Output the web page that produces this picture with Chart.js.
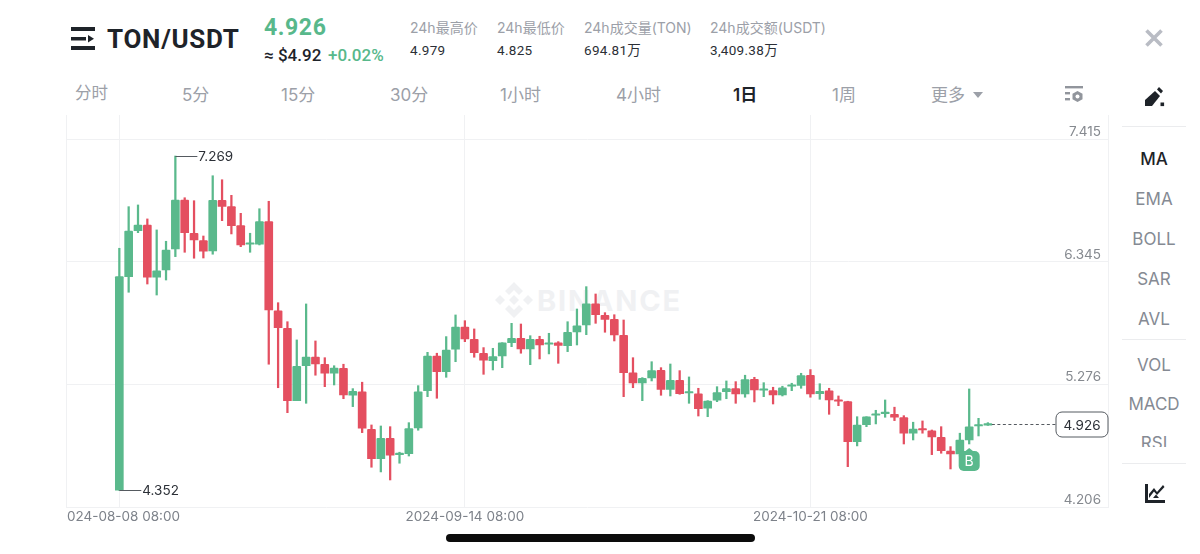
<!DOCTYPE html>
<html>
<head>
<meta charset="utf-8">
<script src="https://cdn.jsdelivr.net/npm/chart.js@4"></script>
<style>
    html, body { margin: 0; padding: 0; background: #fff; width: 1200px; height: 554px; overflow: hidden; }
    body { position: relative; font-family: Inter, Roboto, "Noto Sans CJK SC", sans-serif; color: #1e2329; }
    .t { position: absolute; white-space: nowrap; line-height: 1; transform: translateY(-50%); }
    .r { font-family: Roboto, "Noto Sans CJK SC", sans-serif; }
    .label { font-size: 14px; color: #9ca0a8; }
    .val { font-size: 13.5px; color: #2b2f36; font-family: Roboto, "Noto Sans CJK SC", sans-serif; letter-spacing: .3px; }
    .nav { font-size: 17px; color: #9ca0a8; }
    .side { font-size: 17px; color: #858a93; left: 1122px; width: 64px; text-align: center; }
    .sep { position: absolute; left: 1122px; width: 64px; height: 1px; background: #ebecee; }
    svg { position: absolute; }
    #wrap { position: absolute; left: 66px; top: 110px; width: 1043px; height: 420px; }
    #mark { position: absolute; left: 537px; top: 300px; transform: translateY(-50%); font-size: 29px; font-weight: 700; color: #f0f1f3; letter-spacing: 1.8px; line-height: 1; }
    #home { position: absolute; left: 446px; top: 534px; width: 309px; height: 8px; border-radius: 4px; background: #0c0c0c; }
    #rsiClip { position: absolute; left: 1122px; top: 430px; width: 64px; height: 17px; overflow: hidden; }
</style>
</head>
<body>
    <svg style="left:70px;top:26px" width="26" height="25" viewBox="0 0 26 25">
        <rect x="1" y="1" width="24" height="4" fill="#1e2329"/>
        <rect x="1" y="11" width="15" height="3.5" fill="#1e2329"/>
        <path d="M18 9 L24 12.7 L18 16.5 Z" fill="#1e2329"/>
        <rect x="1" y="20" width="24" height="4" fill="#1e2329"/>
    </svg>
    <div class="t r" style="left:107px;top:39px;font-size:26px;font-weight:700;letter-spacing:.7px">TON/USDT</div>
    <div class="t r" style="left:264px;top:27px;font-size:23px;font-weight:700;color:#58b88b;letter-spacing:.6px">4.926</div>
    <div class="t r" style="left:264px;top:55px;font-size:17px;font-weight:500">≈ $4.92</div>
    <div class="t r" style="left:328px;top:55px;font-size:17px;font-weight:500;color:#58b88b">+0.02%</div>

    <div class="t label" style="left:410px;top:28px">24h最高价</div>
    <div class="t val" style="left:410px;top:51px">4.979</div>
    <div class="t label" style="left:497px;top:28px">24h最低价</div>
    <div class="t val" style="left:497px;top:51px">4.825</div>
    <div class="t label" style="left:584px;top:28px">24h成交量(TON)</div>
    <div class="t val" style="left:584px;top:51px">694.81万</div>
    <div class="t label" style="left:710px;top:28px">24h成交额(USDT)</div>
    <div class="t val" style="left:710px;top:51px">3,409.38万</div>

    <div class="t nav" style="left:75px;top:93px;font-size:16.5px">分时</div>
    <div class="t nav" style="left:182px;top:95px">5分</div>
    <div class="t nav" style="left:281px;top:95px">15分</div>
    <div class="t nav" style="left:390px;top:95px">30分</div>
    <div class="t nav" style="left:500px;top:95px">1小时</div>
    <div class="t nav" style="left:616px;top:95px">4小时</div>
    <div class="t nav" style="left:733px;top:95px;color:#1e2329;font-weight:600">1日</div>
    <div class="t nav" style="left:832px;top:95px">1周</div>
    <div class="t nav" style="left:931px;top:95px">更多</div>
    <svg style="left:972px;top:91px" width="12" height="8"><path d="M1 1 H11 L6 7 Z" fill="#9ca0a8"/></svg>

    <svg style="left:1064px;top:85px" width="20" height="18" viewBox="0 0 20 18">
        <rect x="1" y="1" width="18" height="2.4" fill="#91959c"/>
        <rect x="1" y="7" width="5" height="2.4" fill="#91959c"/>
        <rect x="1" y="13" width="5" height="2.4" fill="#91959c"/>
        <path d="M13.5 6 L18.5 8.8 V14.2 L13.5 17 L8.5 14.2 V8.8 Z" fill="#91959c"/>
        <circle cx="13.5" cy="11.5" r="2" fill="#fff"/>
    </svg>

    <svg style="left:1144px;top:28px" width="20" height="20"><path d="M2.5 2.5 L17.5 17.5 M17.5 2.5 L2.5 17.5" stroke="#b9bcc4" stroke-width="3.6"/></svg>
    <svg style="left:1143px;top:86px" width="24" height="22" viewBox="0 0 24 22">
        <path d="M2 20 V14 L12 5 L17 10 L9 20 Z" fill="#1e2329"/>
        <path d="M14 3.5 L16 1 L20 5 L18 7.5 Z" fill="#1e2329"/>
        <rect x="17.5" y="16.5" width="3.6" height="3.6" fill="#1e2329"/>
    </svg>
    <div class="sep" style="top:126px"></div>
    <div class="t side" style="top:159px;color:#1e2329;font-weight:500">MA</div>
    <div class="t side" style="top:199px">EMA</div>
    <div class="t side" style="top:239px">BOLL</div>
    <div class="t side" style="top:279px">SAR</div>
    <div class="t side" style="top:319px">AVL</div>
    <div class="sep" style="top:339px"></div>
    <div class="t side" style="top:365px">VOL</div>
    <div class="t side" style="top:404px">MACD</div>
    <div id="rsiClip"><div class="t side" style="left:0;top:13px">RSI</div></div>
    <div class="sep" style="top:463px"></div>
    <svg style="left:1144px;top:483px" width="22" height="21" viewBox="0 0 22 21">
        <path d="M1 1 H4 V17 H21 V20 H1 Z" fill="#1e2329"/>
        <path d="M5 11 L10 5 L13 9 L19 2 L20.5 4 L13 12 L10 8.5 L5 15 Z" fill="#1e2329"/>
        <path d="M9 15 L12 11.5 L15 15 Z" fill="#1e2329"/>
    </svg>

    <svg style="left:495px;top:281px" width="38" height="38" viewBox="0 0 38 38">
        <g fill="#f0f1f3">
            <path d="M19 1 L28 10 L24 14 L19 9 L14 14 L10 10 Z"/>
            <path d="M19 37 L28 28 L24 24 L19 29 L14 24 L10 28 Z"/>
            <path d="M5 14 L10 19 L5 24 L0 19 Z"/>
            <path d="M33 14 L38 19 L33 24 L28 19 Z"/>
            <path d="M19 14 L24 19 L19 24 L14 19 Z"/>
        </g>
    </svg>
    <div id="mark">BINANCE</div>

    <div id="wrap"><canvas id="kline" width="1043" height="420"></canvas></div>
    <div id="home"></div>

    <script>
        const opens = [4.352,6.216,6.617,6.667,6.211,6.274,6.458,6.885,6.595,6.530,6.440,6.883,6.827,6.661,6.499,6.499,6.696,5.919,5.766,5.134,5.439,5.515,5.452,5.373,5.417,5.181,5.212,4.884,4.628,4.806,4.663,4.672,4.896,5.221,5.524,5.387,5.583,5.777,5.670,5.548,5.483,5.524,5.640,5.679,5.585,5.670,5.626,5.638,5.614,5.734,5.795,5.978,5.879,5.844,5.705,5.376,5.288,5.332,5.399,5.233,5.312,5.201,5.193,5.068,5.138,5.212,5.239,5.193,5.321,5.225,5.221,5.184,5.260,5.268,5.356,5.195,5.219,5.140,5.125,4.776,4.925,5.007,5.021,5.015,4.986,4.850,4.890,4.870,4.815,4.693,4.669,4.791,4.913,4.921];
        const highs = [6.464,6.827,6.842,6.720,6.624,6.525,7.269,6.905,6.879,6.571,7.097,7.062,6.926,6.769,6.595,6.809,6.874,5.989,5.823,5.664,5.978,5.655,5.509,5.439,5.452,5.239,5.295,4.922,4.913,4.907,4.684,4.942,5.265,5.556,5.548,5.693,5.882,5.832,5.760,5.597,5.591,5.640,5.809,5.803,5.701,5.696,5.722,5.649,5.823,5.934,6.129,6.065,5.902,5.884,5.838,5.509,5.335,5.474,5.422,5.454,5.396,5.341,5.242,5.134,5.256,5.306,5.300,5.356,5.338,5.291,5.251,5.260,5.286,5.373,5.405,5.282,5.242,5.175,5.129,4.994,4.994,5.050,5.140,5.077,5.003,4.946,4.957,4.878,4.907,4.733,4.850,5.236,4.980,4.942];
        const lows = [4.352,6.080,6.600,6.152,6.056,6.187,6.391,6.429,6.377,6.379,6.412,6.705,6.589,6.478,6.429,6.493,5.452,5.247,5.029,5.134,5.111,5.356,5.256,5.271,5.151,5.082,4.855,4.553,4.512,4.442,4.588,4.651,4.876,5.169,5.155,5.338,5.474,5.649,5.513,5.364,5.402,5.422,5.605,5.548,5.448,5.498,5.542,5.460,5.562,5.620,5.710,5.809,5.731,5.655,5.169,5.247,5.134,5.306,5.181,5.175,5.190,5.111,5.000,4.994,5.125,5.151,5.111,5.164,5.123,5.169,5.105,5.175,5.221,5.242,5.164,5.146,5.015,5.090,4.558,4.739,4.907,4.931,4.989,4.960,4.756,4.791,4.850,4.663,4.675,4.538,4.651,4.756,4.826,4.918];
        const closes = [6.216,6.615,6.667,6.211,6.266,6.449,6.885,6.600,6.536,6.438,6.883,6.830,6.661,6.493,6.504,6.696,5.925,5.771,5.134,5.434,5.515,5.454,5.373,5.419,5.184,5.216,4.893,4.628,4.806,4.658,4.672,4.890,5.212,5.524,5.387,5.576,5.777,5.672,5.553,5.487,5.518,5.638,5.679,5.585,5.670,5.620,5.635,5.617,5.731,5.788,5.978,5.884,5.844,5.707,5.378,5.288,5.329,5.396,5.233,5.312,5.195,5.210,5.064,5.131,5.204,5.239,5.193,5.317,5.227,5.233,5.184,5.245,5.268,5.352,5.193,5.216,5.140,5.129,4.776,4.922,4.992,5.018,5.033,4.989,4.850,4.887,4.878,4.817,4.698,4.669,4.791,4.905,4.925,4.926];

        const priceTicks = [7.415, 6.345, 5.276, 4.206];
        const dateTickIndex = [0, 37, 74];
        const dateLabels = ["2024-08-08 08:00", "2024-09-14 08:00", "2024-10-21 08:00"];
        const lastPrice = 4.926;
        const maxIndex = 6, minIndex = 0, buyIndex = 91;

        const green = "#5ab98c", red = "#e44f60", gridColor = "#f0f1f3";
        const candleColors = opens.map((o, i) => closes[i] >= o ? green : red);

        // leader labels, price line, B marker and the left / right frame
        const overlay = {
            id: "overlay",
            beforeDatasetsDraw(chart) {
                const c = chart.ctx, a = chart.chartArea;
                c.save();
                c.strokeStyle = gridColor;
                c.lineWidth = 1;
                c.beginPath();
                c.moveTo(a.left + 0.5, a.top); c.lineTo(a.left + 0.5, a.bottom);
                c.moveTo(a.right - 0.5, a.top); c.lineTo(a.right - 0.5, a.bottom);
                c.stroke();
                c.restore();
            },
            afterDatasetsDraw(chart) {
                const c = chart.ctx, x = chart.scales.x, y = chart.scales.y;
                c.save();
                c.font = "13.5px Inter";
                c.textBaseline = "middle";
                c.strokeStyle = "#555a60";
                c.fillStyle = "#2b2f36";
                c.lineWidth = 1;

                const px = x.getPixelForValue(maxIndex), py = Math.round(y.getPixelForValue(highs[maxIndex])) + 0.5;
                c.beginPath(); c.moveTo(px, py); c.lineTo(px + 22, py); c.stroke();
                c.fillText(highs[maxIndex].toFixed(3), px + 23, py + 0.5);

                const qx = x.getPixelForValue(minIndex), qy = Math.round(y.getPixelForValue(lows[minIndex])) + 0.5;
                c.beginPath(); c.moveTo(qx, qy); c.lineTo(qx + 22, qy); c.stroke();
                c.fillText(lows[minIndex].toFixed(3), qx + 23, qy + 0.5);

                // last price
                const ly = Math.round(y.getPixelForValue(lastPrice)) + 0.5;
                const lx = x.getPixelForValue(opens.length - 1);
                const boxLeft = chart.chartArea.right - 53;
                c.setLineDash([3, 2.5]);
                c.beginPath(); c.moveTo(lx + 4, ly); c.lineTo(boxLeft, ly); c.stroke();
                c.setLineDash([]);
                c.fillStyle = "#fff";
                c.beginPath(); c.roundRect(boxLeft, ly - 12.5, 52, 25, 6); c.fill(); c.stroke();
                c.fillStyle = "#2b2f36";
                c.textAlign = "center";
                c.fillText(lastPrice.toFixed(3), boxLeft + 26, ly + 1);

                // buy marker
                const bx = x.getPixelForValue(buyIndex), by = y.getPixelForValue(lows[buyIndex]) + 4;
                c.fillStyle = green;
                c.beginPath();
                c.moveTo(bx, by);
                c.lineTo(bx + 5, by + 4);
                c.lineTo(bx - 5, by + 4);
                c.fill();
                c.beginPath(); c.roundRect(bx - 10.5, by + 3, 21, 20, 5); c.fill();
                c.fillStyle = "#fff";
                c.font = "14px Inter";
                c.fillText("B", bx, by + 14);
                c.restore();
            }
        };

        new Chart(document.getElementById("kline").getContext("2d"), {
            type: "bar",
            data: {
                datasets: [
                    {
                        data: opens.map((o, i) => ({ x: i, y: [o, closes[i]] })),
                        backgroundColor: candleColors,
                        barThickness: 8,
                        minBarLength: 1.5,
                        borderRadius: 1,
                        grouped: false
                    },
                    {
                        data: lows.map((l, i) => ({ x: i, y: [l, highs[i]] })),
                        backgroundColor: candleColors,
                        barThickness: 1.6,
                        grouped: false
                    }
                ]
            },
            options: {
                responsive: false,
                animation: false,
                devicePixelRatio: 1,
                layout: { padding: { top: 5, left: 0, right: 0, bottom: 0 } },
                plugins: { legend: { display: false }, tooltip: { enabled: false } },
                scales: {
                    x: {
                        type: "linear",
                        offset: false,
                        min: -5.71,
                        max: 105.97,
                        border: { display: false },
                        grid: { color: gridColor, drawTicks: false, offset: false },
                        ticks: {
                            maxRotation: 0,
                            autoSkip: false,
                            padding: 2,
                            color: "#7d828a",
                            font: { family: "Inter", size: 13.5 },
                            callback: v => dateLabels[dateTickIndex.indexOf(v)]
                        },
                        afterBuildTicks: s => { s.ticks = dateTickIndex.map(v => ({ value: v })); },
                        afterFit: s => { s.height = 23; s.paddingLeft = 0; s.paddingRight = 0; }
                    },
                    y: {
                        position: "right",
                        min: 4.206,
                        max: 7.627,
                        border: { display: false },
                        grid: { color: gridColor, drawTicks: false },
                        ticks: {
                            mirror: true,
                            padding: -8,
                            labelOffset: -7,
                            color: "#85898f",
                            font: { family: "Inter", size: 13.5 },
                            callback: v => v.toFixed(3)
                        },
                        afterBuildTicks: s => { s.ticks = priceTicks.map(v => ({ value: v })); },
                        afterFit: s => { s.width = 0; s.paddingTop = 0; s.paddingBottom = 0; }
                    }
                }
            },
            plugins: [overlay]
        });
    </script>
</body>
</html>
